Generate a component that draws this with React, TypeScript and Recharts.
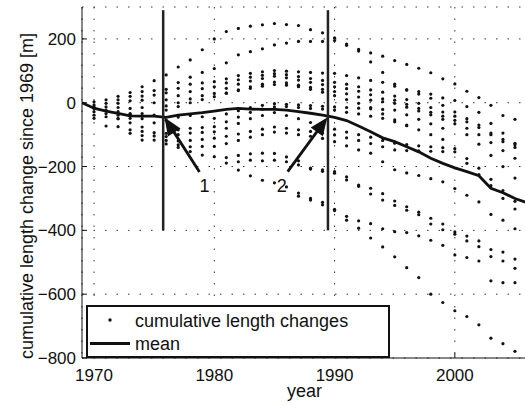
import React from 'react'
import { ComposedChart, Scatter, Line, XAxis, YAxis, CartesianGrid, ReferenceLine, Legend } from 'recharts'

const years = [
  1970, 1971, 1972, 1973, 1974, 1975, 1976, 1977, 1978, 1979,
  1980, 1981, 1982, 1983, 1984, 1985, 1986, 1987, 1988, 1989,
  1990, 1991, 1992, 1993, 1994, 1995, 1996, 1997, 1998, 1999,
  2000, 2001, 2002, 2003, 2004, 2005,
]

// cumulative length change per glacier [m], one entry per year above (null = not measured)
const glacierA = [3, 9, 20, 32, 50, 69, 87, 112, 134, 166, 200, 223, 233, 240, 244, 248, 245, 242, 229, 219, 203, 184, 167, 156, 146, 132, 120, 108, 94, 75, 59, 36, 16, -8, -40, -52]
const glacierB = [null, null, 9, 20, 35, 38, 42, 63, 80, 95, 107, 125, 150, 160, 169, 181, 187, 192, 192, 192, 195, 180, 162, 128, 95, 58, 40, 35, 27, 15, 7, -12, -30, -65, -95, -127]
const glacierC = [-7, -2, -2, 6, 21, 24, 31, 45, 58, 62, 66, 75, 85, 92, 97, 101, 99, 97, 95, 93, 92, 85, 78, 70, 64, 52, 40, 27, 14, -8, -29, -50, -70, -95, -115, -132]
const glacierD = [-13, -13, -15, -18, 8, 0, 9, 22, 35, 44, 50, 62, 72, 80, 86, 91, 88, 82, 76, 70, 64, 58, 50, 40, 33, 21, 10, -2, -15, -29, -42, -60, -78, -100, -122, -140]
const glacierE = [null, -23, -28, -34, -15, null, -10, 0, 12, 22, 29, 45, 58, 68, 76, 83, 78, 71, 64, 57, 50, 44, 36, 25, 12, 8, -5, -18, -30, -42, -55, -80, -100, -125, -150, -174]
const glacierF = [-18, -34, -39, -36, -34, -39, -23, -12, 0, 10, 19, 30, 40, 50, 58, 65, 62, 55, 48, 42, 35, 28, 18, 8, 3, -2, -14, -26, -38, -52, -66, -100, -130, -165, -200, -236]
const glacierG = [null, null, null, null, null, null, null, null, null, null, null, 30, 38, 45, 52, 57, 55, 50, 42, 33, 22, 10, -2, -15, -35, -60, -72, null, null, null, null, null, null, null, null, null]
const glacierH = [-28, -44, -50, -49, -50, -63, -55, -45, -40, -44, -49, -35, -25, -15, -8, -3, -5, -7, -9, -11, -13, -15, -17, -19, -21, -23, -38, -52, -66, -80, null, null, null, null, null, null]
const glacierI = [-39, -73, -75, -63, -76, -94, -96, -85, -80, -78, -75, -60, -45, -30, -20, -13, -12, -15, -18, -20, -23, -30, -35, -42, -49, -54, -70, -85, -100, -115, null, null, null, null, null, null]
const glacierJ = [-49, null, -50, -85, -90, -104, -106, -100, -95, -93, -91, -80, -65, -50, -40, -31, -40, -50, -62, -72, -83, -92, -100, -108, -118, -127, -131, -135, -138, -141, -144, -175, -205, -240, -275, -309]
const glacierK = [null, null, null, -96, -103, -117, -118, -120, -118, -115, -111, -105, -98, -90, -83, -76, -80, -85, -90, -95, -101, -110, -118, -128, -138, -148, -150, -151, -152, -153, -154, -190, -225, -260, -300, -333]
const glacierL = [null, null, null, null, -117, null, null, -140, -138, -137, -137, -128, -118, -108, -100, -92, -95, -100, -105, -112, -122, -135, -148, -158, -185, -210, -220, -228, -238, -248, -269, -290, -311, -350, -368, -395]
const glacierM = [null, null, null, null, null, null, -129, -132, -153, -164, -169, -172, -165, -160, -158, -159, -170, -182, -205, -210, -216, -232, -262, -268, -285, -308, -326, -343, -362, -380, -405, -418, -433, -460, -468, -490]
const glacierO = [null, null, null, null, null, null, null, null, null, null, null, -189, -185, -180, -182, -180, -185, -195, -208, -215, -221, -242, -258, -286, -305, -322, -337, -351, -380, -398, -412, -433, -451, -482, -496, -519]
const glacierN = [null, null, null, null, null, null, null, null, null, null, null, null, -211, -229, -243, -251, -264, -283, -300, -312, -338, -368, -393, -424, -452, -483, -517, -548, -600, -626, -652, -670, -696, -738, -755, -779]
const glacierS = [null, null, null, null, null, null, null, null, null, null, null, null, null, null, null, null, null, -293, -305, -320, -334, -356, -370, -379, -395, -404, -407, -417, -431, -447, -477, -485, -496, -558, -564, -564]

const meanYears = [
  1969, 1970, 1971, 1972, 1973, 1974, 1975, 1976, 1977, 1978, 1979,
  1980, 1981, 1982, 1983, 1984, 1985, 1986, 1987, 1988, 1989,
  1990, 1991, 1992, 1993, 1994, 1995, 1996, 1997, 1998, 1999,
  2000, 2001, 2002, 2003, 2004, 2005, 2006,
]
const meanValues = [
  0, -17, -26, -33, -41, -42, -42, -46, -39, -35, -31,
  -26, -21, -18, -20, -21, -21, -23, -28, -33, -39,
  -46, -56, -73, -91, -110, -122, -138, -154, -174, -190,
  -204, -216, -229, -268, -282, -300, -313,
]

const xTicks = [1970, 1980, 1990, 2000]
const yTicks = [-800, -600, -400, -200, 0, 200]

// the two marked years and the numbered arrows pointing at the mean curve
const markerYears = [1975.75, 1989.45]
const arrowTags = ['1', '2']
const arrowTails = [
  { year: 1978.77, value: -217 },
  { year: 1986.1, value: -216 },
]
const arrowTips = [
  { year: 1975.86, value: -46 },
  { year: 1989.4, value: -46 },
]
const tagShift = [5, -6]

const glaciers = [
  glacierA, glacierB, glacierC, glacierD, glacierE, glacierF, glacierG, glacierH,
  glacierI, glacierJ, glacierK, glacierL, glacierM, glacierO, glacierN, glacierS,
]

const pointData = glaciers.flatMap((series) =>
  years
    .map((year, i) => ({ year, value: series[i] }))
    .filter((p) => p.value !== null),
)
const meanData = meanYears.map((year, i) => ({ year, value: meanValues[i] }))

const ink = '#111'

const Dot = (props: any) => <circle cx={props.cx} cy={props.cy} r={1.6} fill={ink} />

function Arrow(props: any) {
  const { x1, y1, x2, y2, tag, shift } = props
  const dx = x2 - x1
  const dy = y2 - y1
  const len = Math.hypot(dx, dy) || 1
  const ux = dx / len
  const uy = dy / len
  const headLen = 18
  const half = 7.5
  const bx = x2 - ux * headLen
  const by = y2 - uy * headLen
  const head = `${x2},${y2} ${bx - uy * half},${by + ux * half} ${bx + uy * half},${by - ux * half}`
  return (
    <g>
      <line x1={x1} y1={y1} x2={bx + ux * 2} y2={by + uy * 2} stroke={ink} strokeWidth={2.8} />
      <polygon points={head} fill={ink} />
      <text x={x1 + shift} y={y1 + 20} textAnchor="middle" fontSize={18} fill={ink}>
        {tag}
      </text>
    </g>
  )
}

const YTitle = () => (
  <text x={33} y={196} transform="rotate(-90 33 196)" textAnchor="middle" fontSize={18} fill={ink}>
    cumulative length change since 1969 [m]
  </text>
)

function LegendBox() {
  return (
    <div style={{ width: 304, height: 53, boxSizing: 'border-box', border: `2px solid ${ink}`, background: '#fff' }}>
      <svg width={300} height={49} style={{ display: 'block' }}>
        <circle cx={22} cy={13} r={1.7} fill={ink} />
        <text x={47} y={20} fontSize={18} fill={ink}>cumulative length changes</text>
        <line x1={2} x2={42} y1={36.5} y2={36.5} stroke={ink} strokeWidth={2.8} />
        <text x={47} y={43} fontSize={18} fill={ink}>mean</text>
      </svg>
    </div>
  )
}

const minus = (v: number) => String(v).replace('-', '\u2212')

export default function App() {
  return (
    <div
      style={{
        position: 'absolute', left: 0, top: 0, width: 525, height: 406, overflow: 'hidden',
        background: '#fff', fontFamily: '"Liberation Sans", Arial, sans-serif',
      }}
    >
      <ComposedChart width={535} height={406} margin={{ top: 7, right: 8, bottom: 0, left: 0 }}>
        <CartesianGrid stroke="#333" strokeDasharray="1.5 10" />
        <XAxis
          dataKey="year"
          type="number"
          domain={[1969, 2006]}
          ticks={xTicks}
          height={48}
          stroke={ink}
          tickSize={-5}
          tickMargin={16}
          tick={{ fontSize: 17, fill: ink }}
          label={{ value: 'year', position: 'insideBottom', offset: 9, fontSize: 18, fill: ink }}
          allowDataOverflow
        />
        <XAxis
          xAxisId="top"
          orientation="top"
          dataKey="year"
          type="number"
          domain={[1969, 2006]}
          ticks={xTicks}
          height={0}
          stroke={ink}
          tickSize={-5}
          tick={false}
          allowDataOverflow
        />
        <YAxis
          dataKey="value"
          type="number"
          domain={[-800, 300]}
          ticks={yTicks}
          width={82}
          stroke={ink}
          tickSize={-5}
          tickMargin={11}
          tick={{ fontSize: 17, fill: ink }}
          tickFormatter={minus}
          label={<YTitle />}
          allowDataOverflow
        />
        <Scatter data={pointData} dataKey="value" shape={Dot} isAnimationActive={false} />
        <Line
          data={meanData}
          dataKey="value"
          type="linear"
          stroke={ink}
          strokeWidth={2.8}
          dot={false}
          activeDot={false}
          isAnimationActive={false}
        />
        {markerYears.map((m) => (
          <ReferenceLine
            key={m}
            segment={[{ x: m, y: -400 }, { x: m, y: 290 }]}
            stroke="#222"
            strokeWidth={2.5}
          />
        ))}
        {arrowTags.map((tag, i) => (
          <ReferenceLine
            key={tag}
            segment={[
              { x: arrowTails[i].year, y: arrowTails[i].value },
              { x: arrowTips[i].year, y: arrowTips[i].value },
            ]}
            shape={(p: any) => <Arrow {...p} tag={tag} shift={tagShift[i]} />}
          />
        ))}
        <Legend
          layout="vertical"
          align="center"
          verticalAlign="middle"
          content={<LegendBox />}
          wrapperStyle={{ left: 86, top: 305, width: 304, height: 53 }}
        />
      </ComposedChart>
    </div>
  )
}
